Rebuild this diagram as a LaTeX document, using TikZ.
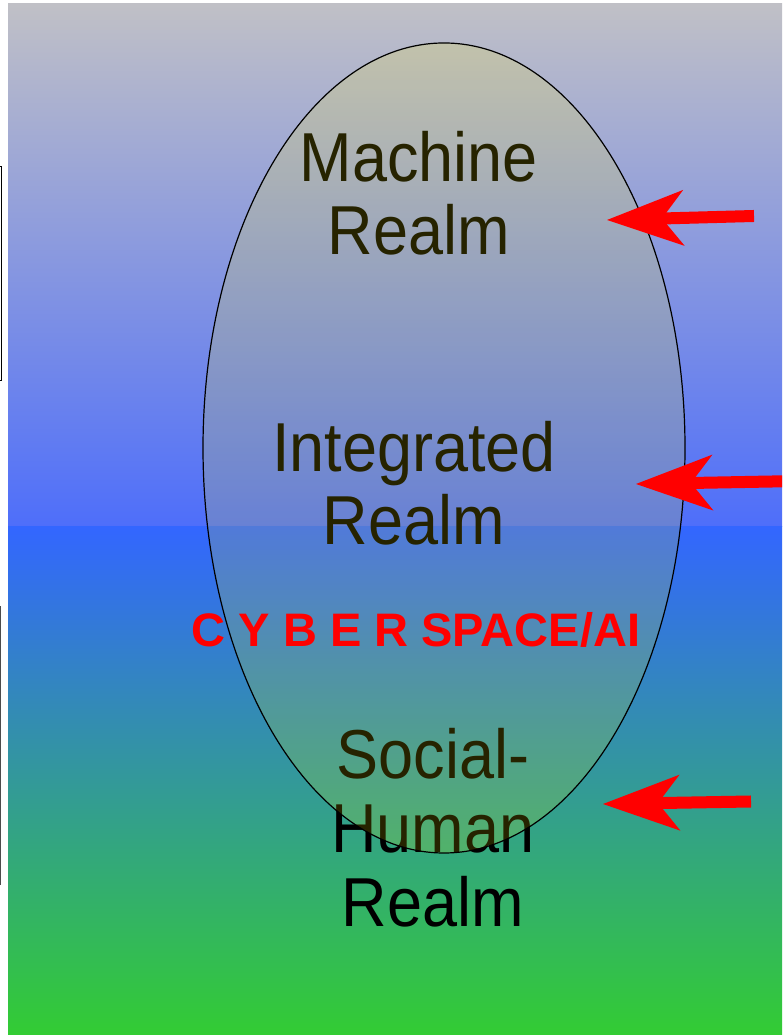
\documentclass[tikz,border=0pt]{standalone}
\usepackage{fontspec}
\setmainfont{Liberation Sans}
\usetikzlibrary{arrows.meta}
\definecolor{bgtop}{RGB}{192,192,198}
\definecolor{bgmid}{RGB}{78,110,250}
\definecolor{bgblue}{RGB}{51,102,255}
\definecolor{bggreen}{RGB}{51,204,51}
\definecolor{ellfill}{RGB}{255,240,0}
\begin{document}
\begin{tikzpicture}[x=1pt,y=1pt,
  realm/.style={font=\fontsize{63}{63}\selectfont, anchor=base, inner sep=0pt, yscale=1.1, transform shape, text=black},
  cyberlabel/.style={font=\bfseries\fontsize{47}{47}\selectfont, text=red, anchor=base, inner sep=0pt},
  bigarrow/.style={draw=red, line width=12pt, -{Stealth[length=77pt,width=56pt,inset=22pt,line width'=0pt]}},
  sidebox/.style={draw=black, line width=1pt},
]
\useasboundingbox (0,0) rectangle (782,1035);
\begin{scope}
\clip (0,0) rectangle (782,1035);
\shade[top color=bgtop, bottom color=bgmid] (8,508) rectangle (782,1031);
\shade[top color=bgblue, bottom color=bggreen] (8,0) rectangle (782,508);
\draw[sidebox] (-40,868) rectangle (1.5,654);
\draw[sidebox, draw=black!70] (-40,428) rectangle (0.8,150);
% realm texts (under the translucent ellipse)
\node[realm] (m1) at (419,853) {Machine};
\node[realm] (m2) at (419,780) {Realm};
\node[realm] (i1) at (414,563) {Integrated};
\node[realm] (i2) at (414,490) {Realm};
\node[realm] (s1) at (433,256) {Social-};
\node[realm] (s2) at (433,182) {Human};
\node[realm] (s3) at (433,108) {Realm};
% ellipse
\coordinate (ec) at (444,587);
\fill[ellfill, fill opacity=0.15] (ec) ellipse [x radius=241, y radius=405];
\draw[black, line width=1.2pt] (ec) ellipse [x radius=241, y radius=405];
\node[cyberlabel] (cyber) at (416,388) {C Y B E R SPACE/AI};
% arrows
\coordinate (a1s) at (754,819);
\coordinate (a1e) at (607,815);
\coordinate (a2s) at (800,554);
\coordinate (a2e) at (636,551);
\coordinate (a3s) at (751,233.5);
\coordinate (a3e) at (603,231);
\draw[bigarrow] (a1s) -- (a1e);
\draw[bigarrow] (a2s) -- (a2e);
\draw[bigarrow] (a3s) -- (a3e);
\end{scope}
\end{tikzpicture}
\end{document}
